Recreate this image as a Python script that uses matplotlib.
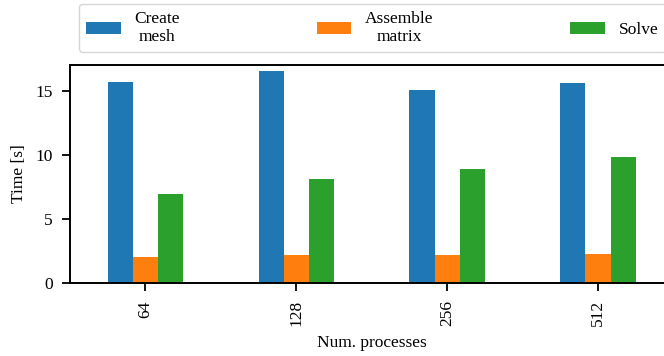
import matplotlib
matplotlib.use("Agg")
import matplotlib.pyplot as plt
import numpy as np

categories = ["64", "128", "256", "512"]
series_names = ["Create\nmesh", "Assemble\nmatrix", "Solve"]
create_mesh = [15.7, 16.5, 15.05, 15.6]
assemble_matrix = [2.03, 2.18, 2.18, 2.27]
solve = [6.95, 8.1, 8.9, 9.84]
colors = ["#1f77b4", "#ff7f0e", "#2ca02c"]

plt.rcParams["font.family"] = ["Liberation Serif", "DejaVu Serif"]
plt.rcParams["font.size"] = 12.5

fig = plt.figure(figsize=(6.64, 3.56), dpi=100)
ax = fig.add_axes([70/664, 1-283/356, 603.5/664, 218/356])

x = np.arange(len(categories))
w = 0.5 / 3
for i, (vals, name) in enumerate(zip([create_mesh, assemble_matrix, solve], series_names)):
    ax.bar(x + (i - 1) * w, vals, w, color=colors[i], label=name)

ax.set_xlim(-0.5, 3.5)
ax.set_ylim(0, 17)
ax.set_yticks([0, 5, 10, 15])
ax.set_xticks(x)
ax.set_xticklabels(categories, rotation=90)
ax.tick_params(length=6, width=1.3, pad=6.5)
ax.set_xlabel("Num. processes", labelpad=6)
ax.set_ylabel("Time [s]", labelpad=6)
for s in ax.spines.values():
    s.set_linewidth(1.4)

leg = ax.legend(loc="lower left", bbox_to_anchor=(0.015, 1.06, 0.972, 0.2),
                mode="expand", ncol=3, borderaxespad=0, fontsize=12.5,
                fancybox=True)
for t in leg.get_texts():
    t.set_multialignment("center")

fig.savefig("out.png", dpi=100)
